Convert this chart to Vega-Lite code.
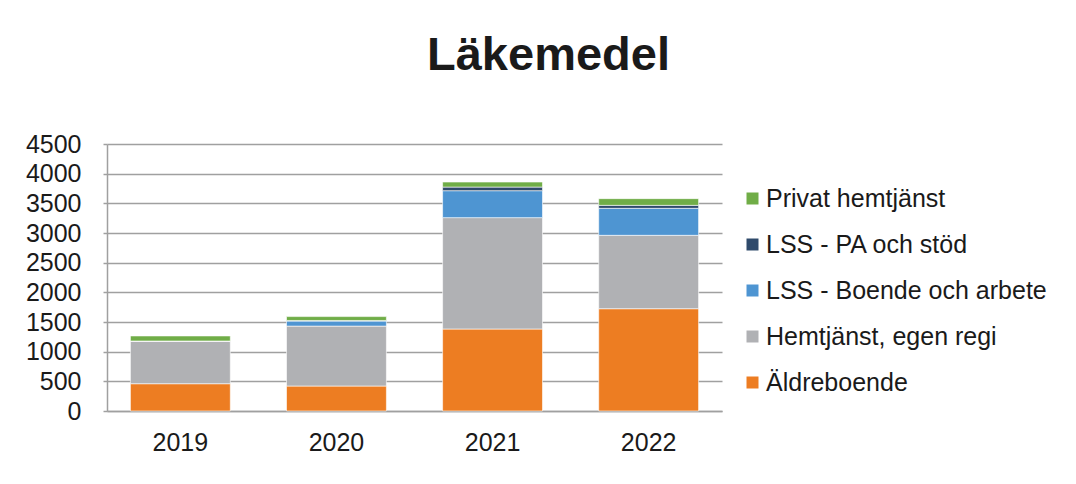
{
  "$schema": "https://vega.github.io/schema/vega-lite/v6.json",
  "autosize": "none",
  "width": 615,
  "height": 267,
  "padding": {"left": 107, "top": 144, "right": 354, "bottom": 73},
  "background": "white",
  "title": {
    "text": "Läkemedel",
    "font": "Liberation Sans",
    "fontSize": 47,
    "fontWeight": "bold",
    "color": "#1a1a1a",
    "anchor": "middle",
    "dx": 134,
    "offset": 52
  },
  "data": {
    "values": [
      {"year": "2019", "cat": "Äldreboende", "o": 1, "v": 460},
      {"year": "2019", "cat": "Hemtjänst, egen regi", "o": 2, "v": 720},
      {"year": "2019", "cat": "LSS - Boende och arbete", "o": 3, "v": 0},
      {"year": "2019", "cat": "LSS - PA och stöd", "o": 4, "v": 0},
      {"year": "2019", "cat": "Privat hemtjänst", "o": 5, "v": 85},
      {"year": "2020", "cat": "Äldreboende", "o": 1, "v": 421},
      {"year": "2020", "cat": "Hemtjänst, egen regi", "o": 2, "v": 1010},
      {"year": "2020", "cat": "LSS - Boende och arbete", "o": 3, "v": 85},
      {"year": "2020", "cat": "LSS - PA och stöd", "o": 4, "v": 10},
      {"year": "2020", "cat": "Privat hemtjänst", "o": 5, "v": 65},
      {"year": "2021", "cat": "Äldreboende", "o": 1, "v": 1382},
      {"year": "2021", "cat": "Hemtjänst, egen regi", "o": 2, "v": 1877},
      {"year": "2021", "cat": "LSS - Boende och arbete", "o": 3, "v": 454},
      {"year": "2021", "cat": "LSS - PA och stöd", "o": 4, "v": 61},
      {"year": "2021", "cat": "Privat hemtjänst", "o": 5, "v": 85},
      {"year": "2022", "cat": "Äldreboende", "o": 1, "v": 1724},
      {"year": "2022", "cat": "Hemtjänst, egen regi", "o": 2, "v": 1237},
      {"year": "2022", "cat": "LSS - Boende och arbete", "o": 3, "v": 455},
      {"year": "2022", "cat": "LSS - PA och stöd", "o": 4, "v": 50},
      {"year": "2022", "cat": "Privat hemtjänst", "o": 5, "v": 113}
    ]
  },
  "mark": {"type": "bar", "stroke": "white", "strokeWidth": 0.6},
  "encoding": {
    "x": {
      "field": "year",
      "type": "nominal",
      "scale": {"paddingInner": 0.36, "paddingOuter": 0.15},
      "axis": {
        "title": null,
        "labelAngle": 0,
        "labelFont": "Liberation Sans",
        "labelFontSize": 25,
        "labelColor": "#1a1a1a",
        "labelPadding": 19,
        "ticks": false,
        "domainColor": "#a0a0a0",
        "domainWidth": 1.5
      }
    },
    "y": {
      "field": "v",
      "type": "quantitative",
      "stack": "zero",
      "scale": {"domain": [0, 4500], "nice": false},
      "axis": {
        "title": null,
        "format": "d",
        "values": [0, 500, 1000, 1500, 2000, 2500, 3000, 3500, 4000, 4500],
        "labelFont": "Liberation Sans",
        "labelFontSize": 25,
        "labelColor": "#1a1a1a",
        "labelPadding": 22,
        "labelFlush": false,
        "tickSize": 4,
        "tickColor": "#a0a0a0",
        "tickWidth": 1.5,
        "domainColor": "#a0a0a0",
        "domainWidth": 1.5,
        "gridColor": "#a0a0a0",
        "gridWidth": 1.5
      }
    },
    "color": {
      "field": "cat",
      "type": "nominal",
      "scale": {
        "domain": ["Privat hemtjänst", "LSS - PA och stöd", "LSS - Boende och arbete", "Hemtjänst, egen regi", "Äldreboende"],
        "range": ["#70AD47", "#2F4A6B", "#4E95D2", "#B0B1B4", "#ED7D22"]
      },
      "legend": {
        "title": null,
        "orient": "none",
        "legendX": 633,
        "legendY": 42,
        "symbolType": "square",
        "symbolSize": 144,
        "symbolStrokeWidth": 0,
        "labelFont": "Liberation Sans",
        "labelFontSize": 25,
        "labelColor": "#1a1a1a",
        "labelOffset": 1,
        "rowPadding": 20,
        "labelLimit": 400
      }
    },
    "order": {"field": "o", "type": "quantitative", "sort": "ascending"}
  },
  "config": {
    "view": {"stroke": null}
  }
}
